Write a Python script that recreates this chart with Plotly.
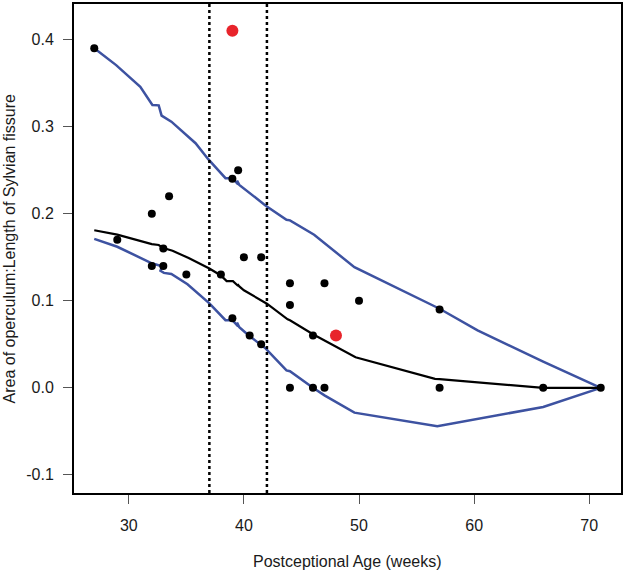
import plotly.graph_objects as go

# Observed points (black)
age_pts = [27, 39.5, 39, 29, 32, 33.5, 33, 32, 33, 35, 38, 40, 41.5, 44, 44, 47, 50, 57,
           39, 40.5, 41.5, 46, 44, 46, 47, 57, 66, 71]
ratio_pts = [0.39, 0.25, 0.24, 0.17, 0.20, 0.22, 0.16, 0.14, 0.14, 0.13, 0.13, 0.15, 0.15, 0.12, 0.095, 0.12, 0.10, 0.09,
             0.08, 0.06, 0.05, 0.06, 0.0, 0.0, 0.0, 0.0, 0.0, 0.0]

# Highlighted points (red)
age_red = [39, 48]
ratio_red = [0.41, 0.06]

# Median curve (black)
med_x = [27, 29, 32, 32.6, 33, 33.8, 35.2, 37, 38, 38.5, 39.05, 39.5, 39.45, 39.6, 40, 42, 43.8, 44, 46, 48, 49.7, 56.6, 57, 66, 71]
med_y = [0.181, 0.176, 0.165, 0.164, 0.1605, 0.1575, 0.149, 0.137, 0.129, 0.1225, 0.1225, 0.117, 0.119, 0.1165, 0.112, 0.0966,
         0.0787, 0.0775, 0.0616, 0.047, 0.035, 0.0103, 0.01, 0.0, 0.0]

# Upper bound curve (blue)
up_x = [27, 28.9, 31, 32.05, 32.6, 32.85, 33.7, 35.8, 36.9, 38.4, 39.0, 39.5, 39.4, 39.6, 41.9, 43.7, 44, 46.1, 49.6, 57, 60.3, 66, 71]
up_y = [0.390, 0.3706, 0.3458, 0.3248, 0.3244, 0.3126, 0.3057, 0.2809, 0.2626, 0.2408, 0.2408, 0.2335, 0.238, 0.2330, 0.2092,
        0.193, 0.1923, 0.1758, 0.1385, 0.0908, 0.066, 0.03, 0.0]

# Lower bound curve (blue)
lo_x = [27, 29, 32, 32.9, 32.75, 33.05, 33.7, 35.1, 37, 38.4, 39.0, 39.5, 39.4, 39.6, 40.4, 41.9, 43.7, 44, 46, 47, 49.6, 56.8, 66, 71]
lo_y = [0.171, 0.162, 0.143, 0.1396, 0.1345, 0.132, 0.1308, 0.119, 0.097, 0.0777, 0.0777, 0.0705, 0.075, 0.0695, 0.0604, 0.045,
        0.02, 0.019, 0.0, -0.0087, -0.0285, -0.0441, -0.022, 0.0]

# Reference ages (dotted verticals)
ref_ages = [37, 42]

x_ticks = [30, 40, 50, 60, 70]
y_ticks = [-0.1, 0.0, 0.1, 0.2, 0.3, 0.4]
y_ticklabels = ["-0.1", "0.0", "0.1", "0.2", "0.3", "0.4"]

BLUE = "#3D52A1"
FONT = "Liberation Sans, Arial, sans-serif"

fig = go.Figure()
fig.add_trace(go.Scatter(x=up_x, y=up_y, mode="lines", line=dict(color=BLUE, width=2.5), hoverinfo="skip"))
fig.add_trace(go.Scatter(x=lo_x, y=lo_y, mode="lines", line=dict(color=BLUE, width=2.5), hoverinfo="skip"))
fig.add_trace(go.Scatter(x=med_x, y=med_y, mode="lines", line=dict(color="black", width=2.2), hoverinfo="skip"))
fig.add_trace(go.Scatter(x=age_pts, y=ratio_pts, mode="markers", marker=dict(color="black", size=8)))
fig.add_trace(go.Scatter(x=age_red, y=ratio_red, mode="markers", marker=dict(color="#E8242B", size=12)))

for a in ref_ages:
    fig.add_shape(type="line", xref="x", yref="paper", x0=a, x1=a, y0=0, y1=1,
                  line=dict(color="black", width=2.5, dash="3px,3px"))

fig.update_layout(
    width=625, height=571,
    margin=dict(l=74, r=4, t=4, b=78, autoexpand=False),
    paper_bgcolor="white", plot_bgcolor="white",
    showlegend=False,
    font=dict(family=FONT, size=16, color="#1a1a1a"),
    xaxis=dict(range=[25.24, 72.76], tickvals=x_ticks, ticks="outside", ticklen=9, tickwidth=1,
               tickcolor="#555", showline=True, mirror=True, linecolor="black", linewidth=2,
               showgrid=False, zeroline=False, ticklabelstandoff=8, automargin=False),
    yaxis=dict(range=[-0.1208, 0.4408], tickvals=y_ticks, ticktext=y_ticklabels, ticks="outside",
               ticklen=9, tickwidth=1, tickcolor="#555", showline=True, mirror=True, linecolor="black",
               linewidth=2, showgrid=False, zeroline=False, ticklabelstandoff=6, automargin=False),
    annotations=[
        dict(text="Postceptional Age (weeks)", xref="paper", yref="paper", x=0.5, y=0,
             xanchor="center", yanchor="middle", yshift=-68, showarrow=False,
             font=dict(family=FONT, size=16, color="#1a1a1a")),
        dict(text="Area of operculum:Length of Sylvian fissure", xref="paper", yref="paper", x=0, y=0.5,
             xanchor="center", yanchor="middle", xshift=-65, textangle=-90, showarrow=False,
             font=dict(family=FONT, size=16, color="#1a1a1a")),
    ],
)

fig.write_html("out.html", config={"displayModeBar": False, "staticPlot": True},
               post_script="document.body.style.margin='0px';document.body.style.overflow='hidden';")
